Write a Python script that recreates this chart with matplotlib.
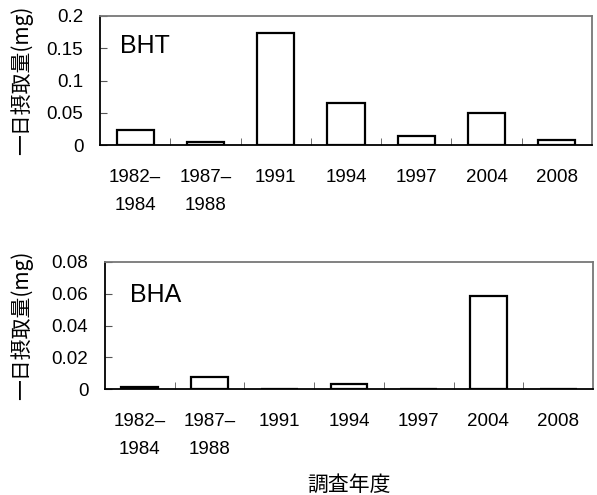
import numpy as np
import matplotlib.pyplot as plt

plt.rcParams["font.family"] = ["Liberation Sans", "Noto Sans CJK JP"]

# data
years = ["1982–\n1984", "1987–\n1988", "1991", "1994", "1997", "2004", "2008"]
bht = [0.023, 0.005, 0.174, 0.065, 0.014, 0.050, 0.008]
bha = [0.0015, 0.0074, 0.0, 0.003, 0.0, 0.0588, 0.0]

W, H = 597, 495
fig = plt.figure(figsize=(W / 100, H / 100), dpi=100)
cjk = ["Noto Sans CJK JP", "DejaVu Sans"]


def make_axes(left, top, right, bottom):
    return fig.add_axes([left / W, 1 - bottom / H, (right - left) / W, (bottom - top) / H])


def draw(ax, values, ymax, yticks, ylabels, name, name_x, name_y):
    x = np.arange(len(values))
    ax.bar(x, values, width=0.53, color="white", edgecolor="black", linewidth=1.6)
    ax.set_xlim(-0.5, len(values) - 0.5)
    ax.set_ylim(0, ymax)
    ax.set_yticks(yticks)
    ax.set_yticklabels(ylabels, fontsize=13.5)
    ax.set_xticks(x)
    ax.set_xticklabels(years, fontsize=13.5, linespacing=1.9, va="top")
    ax.set_xticks(np.arange(0.5, len(values) - 0.5), minor=True)
    ax.tick_params(axis="x", which="major", length=0, pad=17)
    ax.tick_params(axis="x", which="minor", length=5, direction="in", color="#555555")
    ax.tick_params(axis="y", length=5, direction="in", color="#555555", pad=12)
    for s in ["top", "right"]:
        ax.spines[s].set_color("#777777")
        ax.spines[s].set_linewidth(1.3)
    for s in ["left", "bottom"]:
        ax.spines[s].set_color("black")
        ax.spines[s].set_linewidth(1.3)
    ax.text(name_x, name_y, name, transform=ax.transAxes, fontsize=18, va="baseline", ha="left")
    ax.set_ylabel("一日摂取量(mg)", fontsize=15, family=cjk)


ax1 = make_axes(100, 16, 592, 145)
draw(ax1, bht, 0.2, [0, 0.05, 0.1, 0.15, 0.2], ["0", "0.05", "0.1", "0.15", "0.2"], "BHT", 0.04, 0.71)
ax1.yaxis.set_label_coords(-67 / 492, 0.5)

ax2 = make_axes(105, 262, 593, 389)
draw(ax2, bha, 0.08, [0, 0.02, 0.04, 0.06, 0.08], ["0", "0.02", "0.04", "0.06", "0.08"], "BHA", 0.051, 0.685)
ax2.yaxis.set_label_coords(-72 / 488, 0.5)
ax2.set_xlabel("調査年度", fontsize=15, family=cjk, labelpad=11)

fig.savefig("out.png", dpi=100)
